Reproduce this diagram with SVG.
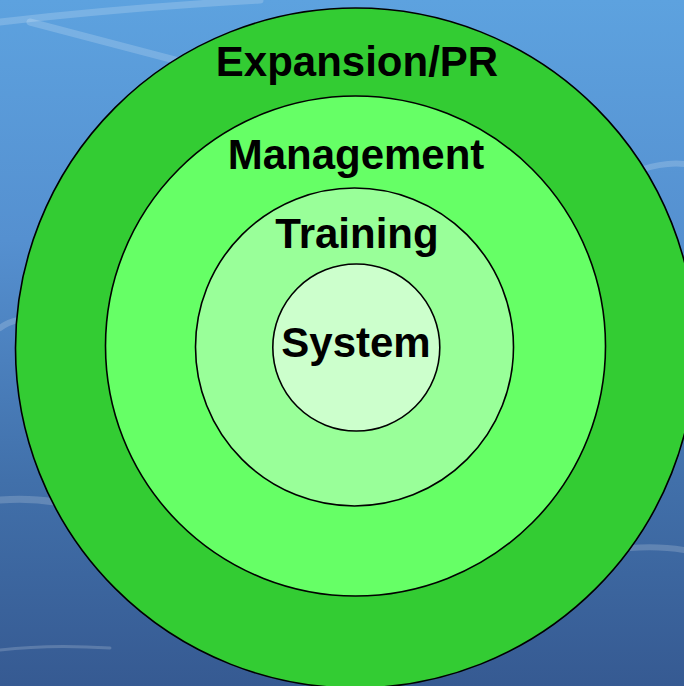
<svg xmlns="http://www.w3.org/2000/svg" width="684" height="686" viewBox="0 0 684 686">
<defs>
<linearGradient id="bg" x1="0" y1="0" x2="0" y2="1">
<stop offset="0" stop-color="#5DA2DF"/>
<stop offset="0.35" stop-color="#5590D0"/>
<stop offset="0.7" stop-color="#4170AA"/>
<stop offset="1" stop-color="#365A92"/>
</linearGradient>
<style>
.ring{stroke:#000;stroke-width:1.6}
.lbl{font-family:"Liberation Sans",Arial,sans-serif;font-weight:bold;font-size:42px;fill:#000;text-anchor:middle}
.streak{fill:none;stroke:#fff;stroke-opacity:0.18;stroke-linecap:round}
</style>
</defs>
<rect width="684" height="686" fill="url(#bg)"/>
<g id="background-streaks">
<path class="streak" stroke-width="7" d="M0,22 Q120,8 260,0"/>
<path class="streak" stroke-width="7" d="M30,22 L190,64"/>
<path class="streak" stroke-width="6" d="M640,170 Q665,162 684,164"/>
<path class="streak" stroke-width="6" d="M0,328 Q8,322 18,320"/>
<path class="streak" stroke-width="7" d="M0,500 Q30,498 55,502"/>
<path class="streak" stroke-width="6" d="M630,548 Q660,546 684,550"/>
<path class="streak" stroke-width="3" stroke-opacity="0.08" d="M0,650 Q50,644 110,648"/>
</g>
<g id="expansion-pr">
<circle class="ring" cx="355.5" cy="348" r="340" fill="#33CC33"/>
<text class="lbl" x="357" y="76">Expansion/PR</text>
</g>
<g id="management">
<circle class="ring" cx="355.5" cy="346" r="250" fill="#66FF66"/>
<text class="lbl" x="356" y="169">Management</text>
</g>
<g id="training">
<circle class="ring" cx="354.5" cy="347" r="159" fill="#99FF99"/>
<text class="lbl" x="357" y="248">Training</text>
</g>
<g id="system">
<circle class="ring" cx="356.3" cy="347.5" r="83.5" fill="#CCFFCC"/>
<text class="lbl" x="356" y="357">System</text>
</g>
<g id="connectors"/>
</svg>
